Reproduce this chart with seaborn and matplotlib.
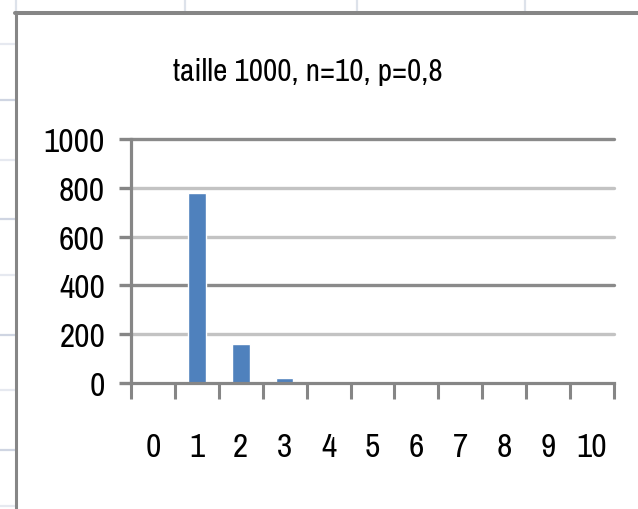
import matplotlib
matplotlib.use('Agg')
import matplotlib.pyplot as plt
import seaborn as sns
import pandas as pd
from matplotlib.lines import Line2D

# ---- data ----
categories = ['0', '1', '2', '3', '4', '5', '6', '7', '8', '9', '10']
counts = [0, 780, 160, 20, 0, 0, 0, 0, 0, 0, 0]
y_ticks = [0, 200, 400, 600, 800, 1000]
title = 'taille 1000, n=10, p=0,8'

# ---- style ----
sns.set_theme(style='white')
plt.rcParams['font.family'] = ['Liberation Sans Narrow', 'Archivo Narrow', 'Liberation Sans', 'DejaVu Sans']
FS_TITLE = 22.5
FS_TICK = 24
AXIS_GRAY = '#868686'
GRID_COLORS = {200: '#c3c3c3', 400: '#8a8a8a', 600: '#c3c3c3', 800: '#c3c3c3', 1000: '#8a8a8a'}

W, H = 638, 510
fig = plt.figure(figsize=(W / 100, H / 100), dpi=100)
fig.patch.set_facecolor('white')


def fx(x):
    return x / W


def fy(y):
    return 1 - y / H


# spreadsheet background decoration
for i, yy in enumerate([45, 101, 161, 220, 276, 336, 391, 451, 507]):
    c = '#e6e9f0' if i % 2 == 0 else '#cfd5e2'
    fig.add_artist(Line2D([fx(0), fx(15)], [fy(yy), fy(yy)], color=c, lw=1.6))
for xx in [16, 185, 357, 525]:
    fig.add_artist(Line2D([fx(xx), fx(xx)], [fy(0), fy(12)], color='#dde2ea', lw=1.6))
# chart border
fig.add_artist(Line2D([fx(15), fx(638)], [fy(14), fy(14)], color=AXIS_GRAY, lw=2.9))
fig.add_artist(Line2D([fx(16), fx(16)], [fy(13), fy(510)], color=AXIS_GRAY, lw=2.2))

# ---- axes ----
ax = fig.add_axes([fx(131), fy(384), (614 - 131) / W, (384 - 140) / H])
df = pd.DataFrame({'k': categories, 'n': counts})
sns.barplot(data=df, x='k', y='n', order=categories, color='#4f81bd',
            width=0.4, saturation=1, ax=ax, zorder=3)

ax.set_xlim(-0.5, len(categories) - 0.5)
ax.set_ylim(0, 1000)
ax.set_xlabel('')
ax.set_ylabel('')
ax.set_facecolor('white')

for v in y_ticks[1:]:
    ax.axhline(v, color=GRID_COLORS[v], lw=2.4, zorder=1, clip_on=False)

for s in ['top', 'right']:
    ax.spines[s].set_visible(False)
for s in ['left', 'bottom']:
    ax.spines[s].set_color(AXIS_GRAY)
    ax.spines[s].set_linewidth(2.3)
    ax.spines[s].set_zorder(4)

ax.set_yticks(y_ticks)
ax.set_yticklabels([str(v) for v in y_ticks])
ax.tick_params(axis='y', which='major', length=8.6, width=2.4, color=AXIS_GRAY,
               direction='out', pad=10, labelsize=FS_TICK, labelcolor='black', left=True)

ax.set_xticks(range(len(categories)))
ax.set_xticklabels(categories)
ax.set_xticks([i - 0.5 for i in range(len(categories) + 1)], minor=True)
ax.tick_params(axis='x', which='major', length=0, pad=35, labelsize=FS_TICK, labelcolor='black')
ax.tick_params(axis='x', which='minor', length=11.5, width=2.2, color=AXIS_GRAY,
               direction='out', bottom=True)

fig.text(fx(308), fy(81), title, ha='center', va='baseline', fontsize=FS_TITLE, color='black')

fig.savefig('out.png', dpi=100, facecolor='white')
